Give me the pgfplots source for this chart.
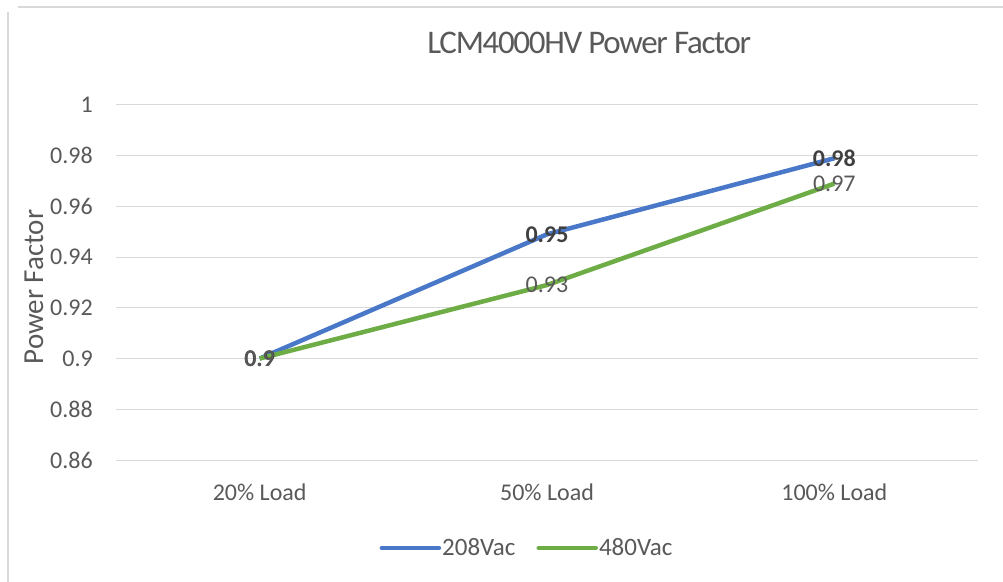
\documentclass[border=0pt]{standalone}
\usepackage{pgfplots}
\pgfplotsset{compat=1.18}
\usepackage{fontspec}
\setmainfont{Carlito}
\newfontfamily\titlefont[LetterSpace=-4]{Carlito}
\definecolor{c208}{HTML}{4A78C8}
\definecolor{c480}{HTML}{6EAD45}
\definecolor{txt}{HTML}{595959}
\definecolor{grd}{HTML}{D9D9D9}
\begin{document}
\begin{tikzpicture}
\useasboundingbox (0,0) rectangle (1003bp,582bp);
\draw[grd, line width=1.5bp] (8bp,0) -- (8bp,570bp);
\draw[grd, line width=1.5bp] (18bp,575bp) -- (1003bp,575bp);
\begin{axis}[
  at={(116bp,122bp)}, anchor=south west,
  scale only axis, width=862bp, height=355bp,
  xmin=-0.5, xmax=2.5, ymin=0.86, ymax=1.0,
  xtick={0,1,2}, xticklabels={20\% Load,50\% Load,100\% Load},
  ytick={0.86,0.88,0.9,0.92,0.94,0.96,0.98,1.0},
  yticklabels={0.86,0.88,0.9,0.92,0.94,0.96,0.98,1},
  axis x line*=bottom,
  axis y line*=left,
  x axis line style={draw=grd, line width=1bp, -},
  y axis line style={draw=none},
  major tick length=0pt,
  ymajorgrids, grid style={grd, line width=1bp},
  tick label style={font=\fontsize{24bp}{27bp}\selectfont, text=txt},
  /pgf/number format/assume math mode=true,
  yticklabel style={anchor=east, inner sep=0pt, xshift=-23bp},
  xticklabel style={anchor=center, inner sep=0pt, yshift=-32bp},
  ylabel={Power Factor},
  ylabel style={at={(rel axis cs:0,0.5)}, anchor=center, yshift=82bp, xshift=-4.5bp, font=\fontsize{29bp}{32bp}\selectfont, text=txt},
  title={\titlefont LCM4000HV Power Factor},
  title style={at={(rel axis cs:0.549,1)}, anchor=center, yshift=56bp, font=\fontsize{33bp}{36bp}\selectfont, text=txt},
  clip=false,
  nodes near coords, point meta=explicit symbolic,
  legend columns=2,
  legend style={at={(rel axis cs:0.4855,0)}, anchor=center, xshift=-8bp, yshift=-88bp, draw=none, fill=none,
    font=\fontsize{25bp}{28bp}\selectfont, text=txt,
    /tikz/every even column/.append style={column sep=20bp},
    nodes={inner xsep=1bp}},
  legend image code/.code={\draw[#1, line cap=round] (0,0) -- (57bp,0);},
]
\addplot[c208, line width=4.5bp, mark=none,
  every node near coord/.append style={anchor=center, text=black!75, font=\fontsize{24bp}{27bp}\selectfont\bfseries}]
  coordinates {(0,0.9) [0.9] (1,0.949) [0.95] (2,0.979) [0.98]};
\addplot[c480, line width=4.5bp, mark=none,
  every node near coord/.append style={anchor=center, text=txt, font=\fontsize{24bp}{27bp}\selectfont}]
  coordinates {(0,0.9) [0.9] (1,0.929) [0.93] (2,0.969) [0.97]};
\legend{208Vac,480Vac}
\end{axis}
\end{tikzpicture}
\end{document}
